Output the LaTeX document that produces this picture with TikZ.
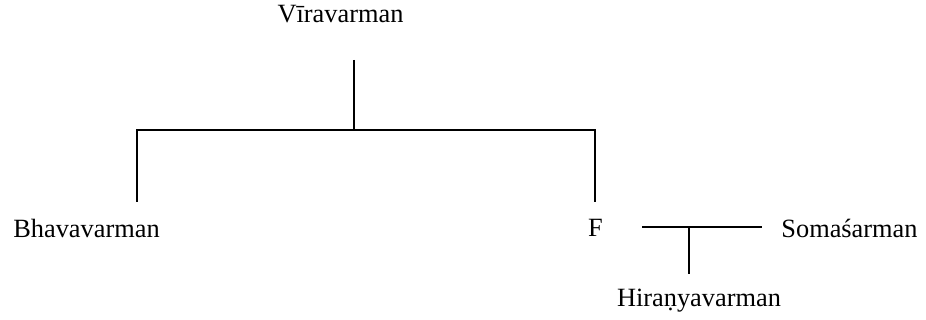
\documentclass[tikz,border=0pt]{standalone}
\usepackage{fontspec}
\setmainfont{Liberation Serif}

\begin{document}
\begin{tikzpicture}[x=0.02cm, y=-0.02cm, line width=1.1pt,
    person/.style={anchor=base, inner sep=0pt, font=\fontsize{15}{18}\selectfont}]
  \useasboundingbox (0,0) rectangle (926,320);
  % Names
  \node[person] (vira) at (340.5,23) {Vīravarman};
  \node[person] (bhava) at (86.5,238) {Bhavavarman};
  \node[person] (f) at (595.5,237) {F};
  \node[person] (soma) at (849.5,238) {Somaśarman};
  \node[person] (hiranya) at (699,307) {Hiraṇyavarman};
  % Line ends
  \coordinate (virafoot) at (354,60);
  \coordinate (sibbar) at (354,130);
  \coordinate (bhavahead) at (137,202);
  \coordinate (fhead) at (595,202);
  \coordinate (wedleft) at (642,227);
  \coordinate (wedright) at (762,227);
  \coordinate (childhead) at (689,274);
  % Children of Viravarman
  \draw (virafoot) -- (sibbar);
  \draw (bhavahead) -- (bhavahead |- sibbar) -- (fhead |- sibbar) -- (fhead);
  % Marriage and child
  \draw (wedleft) -- (wedright);
  \draw (childhead |- wedleft) -- (childhead);
\end{tikzpicture}
\end{document}
